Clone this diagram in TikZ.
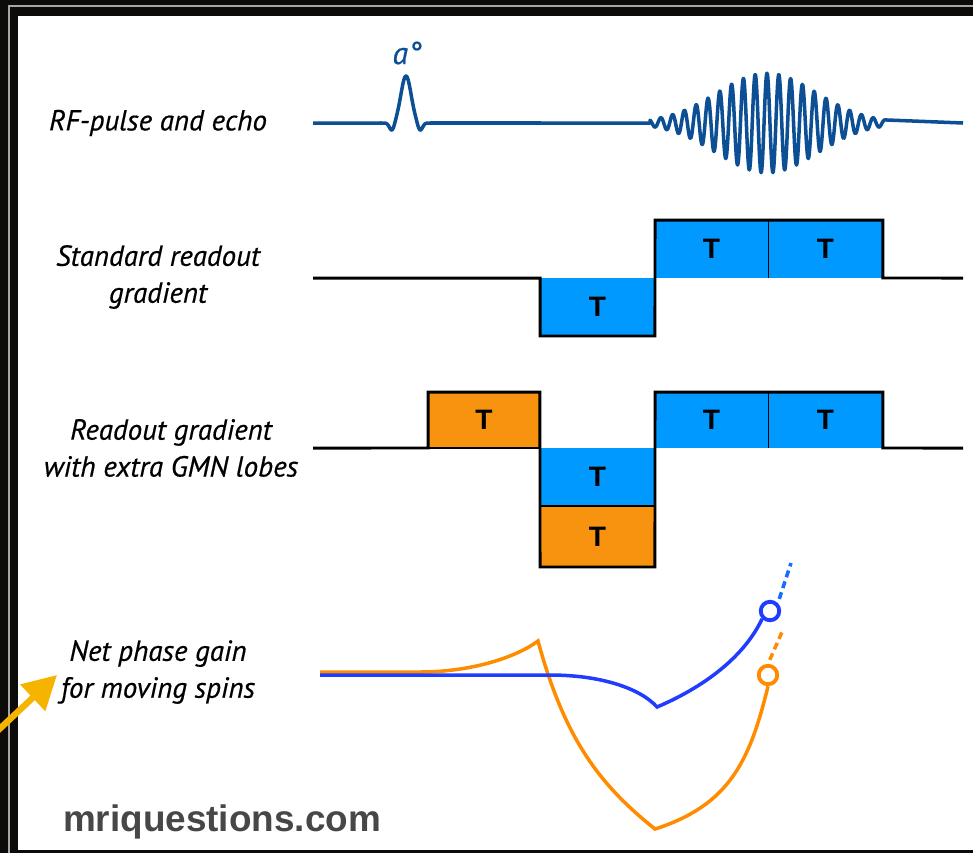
\documentclass[tikz,border=0pt]{standalone}
\usepackage{fontspec}
\newfontfamily\labelfont[ItalicFeatures={FakeBold=0.5}]{PT Sans}
\newfontfamily\sitefont{Liberation Sans}
\usetikzlibrary{positioning,arrows.meta}
\definecolor{rfblue}{HTML}{0D4F95}
\definecolor{gradblue}{HTML}{0099FF}
\definecolor{gmnorange}{HTML}{F7930F}
\definecolor{phaseblue}{HTML}{1F3CFF}
\definecolor{phaseorange}{HTML}{FF8C00}
\definecolor{arrowyellow}{HTML}{F5B400}
\definecolor{sitegray}{HTML}{474747}
\definecolor{framedark}{HTML}{0D0B0A}
\tikzset{
  rowlabel/.style={font=\labelfont\itshape\fontsize{16.5}{21}\selectfont, align=center},
  lobe/.style={rectangle, anchor=north west, inner sep=0pt, outer sep=0pt,
    font=\sitefont\bfseries\fontsize{16}{16}\selectfont},
  gradline/.style={line width=1.7pt, line join=miter},
  rfline/.style={draw=rfblue, line width=2pt, line join=round},
  phaseline/.style={line width=2pt, line join=miter},
  endmark/.style={circle, draw, fill=white, line width=2.2pt, inner sep=0pt,
    minimum size=0.37cm},
  tailend/.style={line width=2pt, dash pattern=on 4pt off 2.5pt, dash phase=4pt},
}

\begin{document}
\begin{tikzpicture}[x=0.02cm, y=-0.02cm]
  \useasboundingbox (0,0) rectangle (973,853);
  \fill[framedark] (0,0) rectangle (973,853);
  \draw[gray!70, line width=1.1pt] (9,853) -- (9,6) -- (973,6);
  \fill[white] (18,16) rectangle (973,850);

  % row labels
  \node[rowlabel] (rflab) at (158,123) {RF-pulse and echo};
  \node[rowlabel] (stdlab) at (158,277) {Standard readout\\gradient};
  \node[rowlabel] (gmnlab) at (171,448) {Readout gradient\\with extra GMN lobes};
  \node[rowlabel] (phaselab) at (158,672) {Net phase gain\\for moving spins};

  % RF pulse and echo
  \draw[rfline] (313,123) -- (380,123)
    -- plot[domain=380:432, samples=120]
       (\x, {123 - 47*exp(-(\x-406)*(\x-406)/52) + 8*exp(-(\x-392)*(\x-392)/12)
             + 8*exp(-(\x-420)*(\x-420)/12)})
    -- (650,123)
    -- plot[domain=650:885, samples=500]
       (\x, {123 - 50*exp(-(\x-767)*(\x-767)/5000)*cos(30.5*(\x-767))})
    -- (963,123);
  \node[font=\labelfont\itshape\fontsize{18}{18}\selectfont, text=rfblue]
    (flip) at (407,53) {a°};

  % standard readout gradient
  \node[lobe, fill=gradblue, minimum width=2.30cm, minimum height=1.16cm]
    (stdneg) at (540,278) {T};
  \node[lobe, fill=gradblue, minimum width=2.26cm, minimum height=1.16cm]
    (stdposA) at (655,220) {T};
  \node[lobe, fill=gradblue, minimum width=2.30cm, minimum height=1.16cm]
    (stdposB) at (768,220) {T};
  \draw[gradline] (313,278) -- (stdneg.north west) -- (stdneg.south west)
    -- (stdneg.south east) -- (stdposA.north west) -- (stdposB.north east)
    -- (stdposB.south east) -- (963,278);
  \draw[thin] (stdposA.north east) -- (stdposA.south east);

  % readout gradient with GMN lobes
  \node[lobe, fill=gmnorange, minimum width=2.24cm, minimum height=1.12cm]
    (gmnpre) at (428,392) {T};
  \node[lobe, fill=gradblue, minimum width=2.30cm, minimum height=1.16cm]
    (gmnneg) at (540,448) {T};
  \node[lobe, fill=gmnorange, minimum width=2.30cm, minimum height=1.22cm]
    (gmnextra) at (540,506) {T};
  \node[lobe, fill=gradblue, minimum width=2.26cm, minimum height=1.12cm]
    (gmnposA) at (655,392) {T};
  \node[lobe, fill=gradblue, minimum width=2.30cm, minimum height=1.12cm]
    (gmnposB) at (768,392) {T};
  \draw[gradline] (313,448) -- (gmnpre.south west) -- (gmnpre.north west)
    -- (gmnpre.north east) -- (gmnextra.south west) -- (gmnextra.south east)
    -- (gmnposA.north west) -- (gmnposB.north east) -- (gmnposB.south east)
    -- (963,448);
  \draw[gradline] (gmnpre.south west) -- (gmnpre.south east);
  \draw[gradline] (gmnneg.south west) -- (gmnneg.south east);
  \draw[thin] (gmnposA.north east) -- (gmnposA.south east);

  % phase of moving spins
  \node[endmark, draw=phaseblue] (blueend) at (770,611) {};
  \node[endmark, draw=phaseorange] (orangeend) at (768,675) {};
  \draw[phaseline, phaseorange] (320,672) -- (420,672)
    .. controls (470,672) and (515,658) .. (538,641)
    .. controls (565,740) and (600,785) .. (655,829)
    .. controls (730,805) and (750,760) .. (orangeend.south);
  \draw[phaseline, phaseblue] (320,675) -- (550,675)
    .. controls (600,675) and (640,688) .. (657,707)
    .. controls (690,693) and (740,665) .. (blueend.south west);
  \coordinate (bluefree) at (791,563);
  \coordinate (orangefree) at (782,632);
  \draw[tailend, phaseblue!75!cyan] (blueend.north east) -- (bluefree);
  \draw[tailend, phaseorange] (orangeend.north) -- (orangefree);

  % pointer and site name
  \coordinate (pointtail) at (-8,736);
  \coordinate (pointtip) at (57,675);
  \draw[arrowyellow, line width=3.6pt, -{Triangle[length=19pt, width=20pt]}]
    (pointtail) -- (pointtip);
  \node[font=\sitefont\bfseries\fontsize{21}{21}\selectfont, text=sitegray]
    (site) at (222,822) {mriquestions.com};
\end{tikzpicture}
\end{document}
